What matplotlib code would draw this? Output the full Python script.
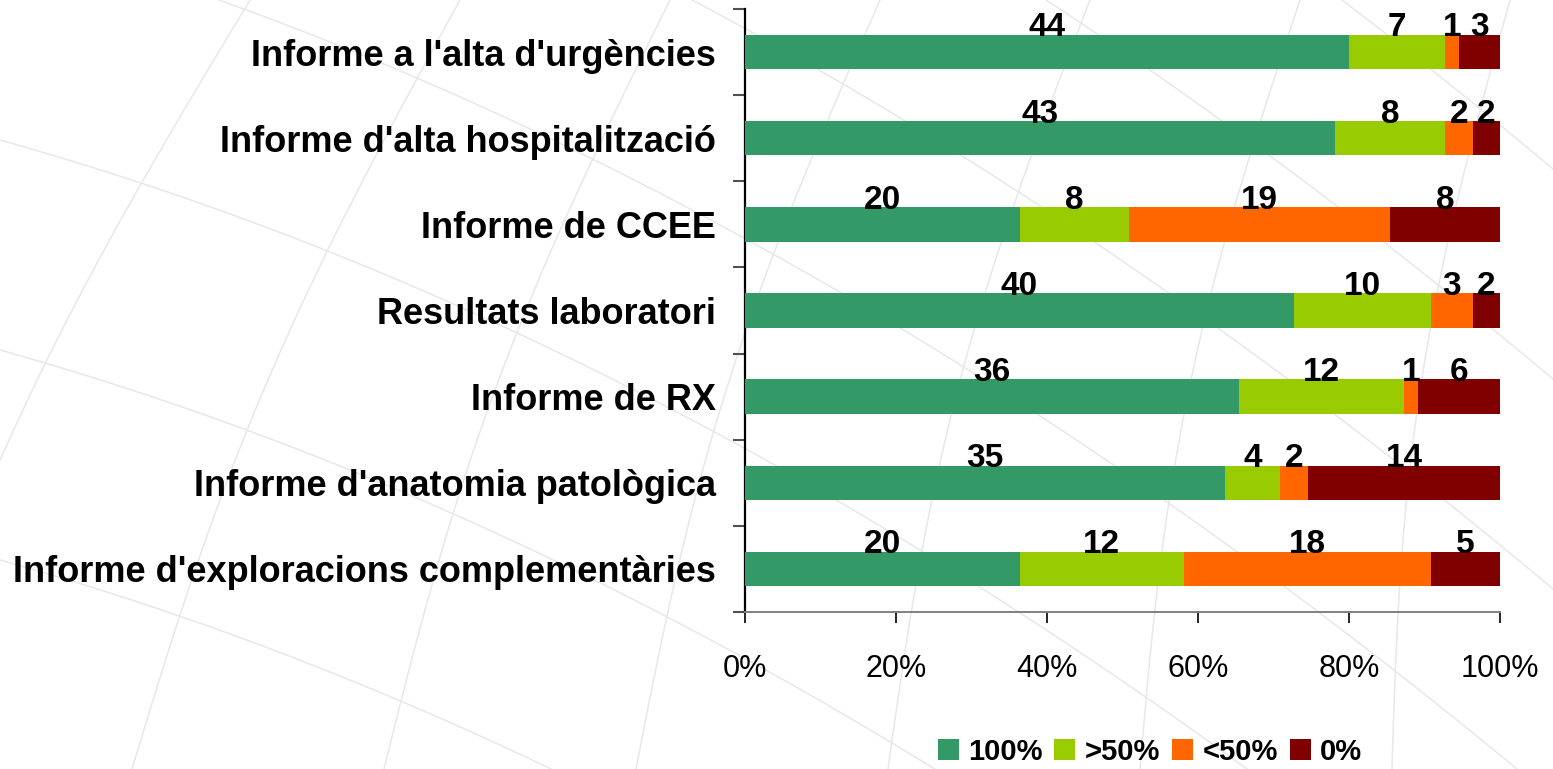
import numpy as np
import matplotlib
matplotlib.use("Agg")
import matplotlib.pyplot as plt
from matplotlib.patches import Patch
from matplotlib.lines import Line2D

plt.rcParams['font.family'] = ['Liberation Sans', 'DejaVu Sans']

# ------------------------------
# Datos
# ------------------------------
categorias = [
    "Informe a l'alta d'urgències",
    "Informe d'alta hospitalització",
    "Informe de CCEE",
    "Resultats laboratori",
    "Informe de RX",
    "Informe d'anatomia patològica",
    "Informe d'exploracions complementàries",
]
serie_100 = [44, 43, 20, 40, 36, 35, 20]
serie_mas50 = [7, 8, 8, 10, 12, 4, 12]
serie_menos50 = [1, 2, 19, 3, 1, 2, 18]
serie_0 = [3, 2, 8, 2, 6, 14, 5]

series = [serie_100, serie_mas50, serie_menos50, serie_0]
nombres = ["100%", ">50%", "<50%", "0%"]
colores = ["#339966", "#99CC00", "#FF6600", "#800000"]

W, H = 1553, 769

# ------------------------------
# Gráfico
# ------------------------------
fig = plt.figure(figsize=(W / 100, H / 100), dpi=100)

# fondo: rejilla tenue tipo globo (decorativa)
t = np.linspace(0, 1, 60)
for c in range(250, 1900, 210):
    inclin = -420 + 0.2 * c
    xs = c + inclin * t - 30 * np.sin(np.pi * t)
    ys = H * t
    fig.add_artist(Line2D(xs / W, 1 - ys / H, color='#e8e8e8', lw=1.1, zorder=0))
for c in range(-700, 800, 210):
    xs = W * t
    ys = c + 0.28 * xs + 0.00018 * xs ** 2
    fig.add_artist(Line2D(xs / W, 1 - ys / H, color='#e8e8e8', lw=1.1, zorder=0))

ax = fig.add_axes([745 / W, 1 - 612 / H, 755 / W, 603 / H])

datos = np.array(series, dtype=float)
totales = datos.sum(axis=0)
pct = datos / totales * 100
y = np.arange(len(categorias))

izq = np.zeros(len(categorias))
for k in range(len(series)):
    ax.barh(y, pct[k], left=izq, height=0.4, color=colores[k], zorder=3)
    for i in range(len(categorias)):
        ax.text(izq[i] + pct[k][i] / 2, y[i] - 0.28, str(series[k][i]),
                ha='center', va='center', fontsize=24, fontweight='bold',
                zorder=4)
    izq += pct[k]

ax.set_xlim(0, 100)
ax.set_ylim(len(categorias) - 0.5, -0.5)

ax.set_xticks(np.arange(0, 101, 20))
ax.set_xticklabels([f"{v}%" for v in range(0, 101, 20)], fontsize=22)
ax.tick_params(axis='x', direction='out', length=8, width=1.2, color='black',
               pad=22)

ax.set_yticks(y)
ax.set_yticklabels(categorias, fontsize=26, fontweight='bold')
ax.set_yticks(np.arange(-0.5, len(categorias), 1), minor=True)
ax.tick_params(axis='y', which='major', length=0, pad=21)
ax.tick_params(axis='y', which='minor', direction='out', length=9, width=1.5,
               color='#505050')

for lado in ['top', 'right']:
    ax.spines[lado].set_visible(False)
ax.spines['left'].set_color('black')
ax.spines['left'].set_linewidth(1.6)
ax.spines['bottom'].set_color('#808080')
ax.spines['bottom'].set_linewidth(1.4)
ax.patch.set_alpha(0)

handles = [Patch(facecolor=c, edgecolor='none') for c in colores]
leg = fig.legend(handles, nombres, loc='center', bbox_to_anchor=(1150 / W, 1 - 752 / H),
                 ncol=4, frameon=False, handlelength=0.72, handleheight=0.72,
                 handletextpad=0.33, columnspacing=0.4,
                 prop={'size': 21, 'weight': 'bold'})

plt.savefig("out.png", dpi=100)
